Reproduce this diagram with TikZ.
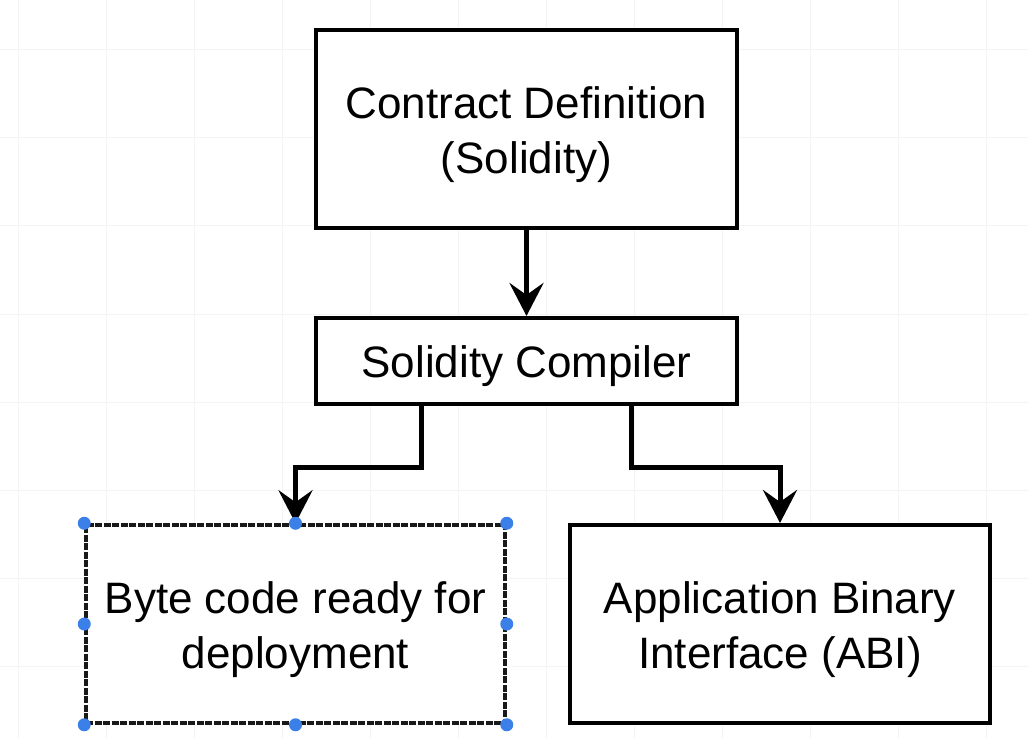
\documentclass[tikz,border=0pt]{standalone}
\usepackage{fontspec}
\setmainfont{Liberation Sans}
\usetikzlibrary{arrows.meta,calc}
\definecolor{handleblue}{RGB}{58,128,232}
\definecolor{gridgray}{RGB}{244,244,244}
\newcommand{\topstrut}{\rule{0pt}{43pt}}
\tikzset{
  boxstyle/.style={draw=black,line width=4pt,fill=white,align=center,inner sep=0pt,
    font=\fontsize{44}{55}\selectfont},
  selbox/.style={draw=black!90,line width=3.5pt,dash pattern=on 7pt off 1.5pt,fill=white,align=center,inner sep=0pt,
    font=\fontsize{44}{55}\selectfont},
  arr/.style={line width=5pt,-{Stealth[length=33pt,width=34pt,inset=12pt]}},
  handle/.style={circle,fill=handleblue,inner sep=0pt,minimum size=13pt}
}
\begin{document}
\begin{tikzpicture}[x=1pt,y=-1pt]
\useasboundingbox (0,0) rectangle (1028,738);
\fill[white] (0,0) rectangle (1028,738);
% faint grid
\foreach \gx in {18,106,194,282,370,458,546,634,722,810,898,986}{
  \draw[gridgray,line width=1pt] (\gx,0) -- (\gx,738);
}
\foreach \gy in {50,138,226,314,402,490,578,666}{
  \draw[gridgray,line width=1pt] (0,\gy) -- (1028,\gy);
}
\node[boxstyle,minimum width=421pt,minimum height=198pt] (contract) at (526.5,129) {\topstrut Contract Definition\\(Solidity)};
\node[boxstyle,minimum width=421pt,minimum height=86pt] (compiler) at (526.5,361) {\topstrut Solidity Compiler};
\node[selbox,minimum width=419pt,minimum height=198pt] (byte) at (295.5,624) {\topstrut Byte code ready for\\deployment};
\node[boxstyle,minimum width=420pt,minimum height=198pt] (abi) at (780,624) {\topstrut Application Binary\\Interface (ABI)};
\draw[arr] (contract.south) -- (compiler.north);
\draw[arr] ($(compiler.south)+(-105,0)$) -- ++(0,61) -| (byte.north);
\draw[arr] ($(compiler.south)+(105,0)$) -- ++(0,61) -| (abi.north);
\foreach \a in {north west,north,north east,east,south east,south,south west,west}{
  \node[handle] at (byte.\a) {};
}
\end{tikzpicture}
\end{document}
